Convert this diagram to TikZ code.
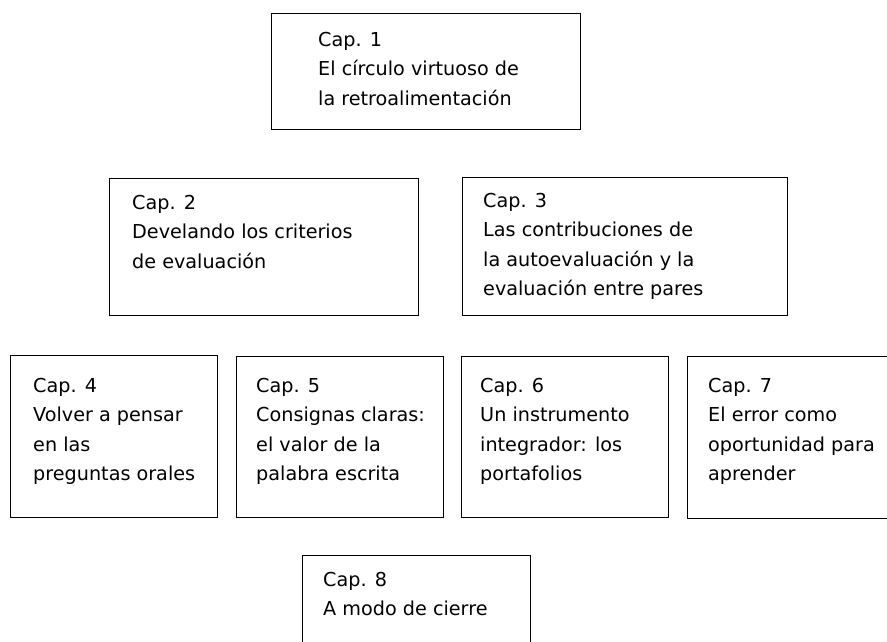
\documentclass[tikz,border=0pt]{standalone}
\usepackage{fontspec}
\setmainfont{DejaVu Sans}
\usetikzlibrary{positioning}

\begin{document}
\begin{tikzpicture}[
		x=1pt, y=-1pt,
		capbox/.style={draw=black, line width=1pt, anchor=north west, inner sep=0pt},
		captext/.style={anchor=north west, align=left, inner sep=0pt, font=\fontsize{19.2}{29.5}\selectfont},
		]
		\useasboundingbox (0,0) rectangle (887,641);
		\clip (0,0) rectangle (887,641);
		%Boxes
		\node[capbox, minimum width=309pt, minimum height=116pt]	(box1)	at	(271,13)	{};
		\node[capbox, minimum width=309pt, minimum height=137pt]	(box2)	at	(109,178)	{};
		\node[capbox, minimum width=325pt, minimum height=138pt]	(box3)	at	(462,177)	{};
		\node[capbox, minimum width=207pt, minimum height=162pt]	(box4)	at	(10,355)	{};
		\node[capbox, minimum width=207pt, minimum height=161pt]	(box5)	at	(236,356)	{};
		\node[capbox, minimum width=207pt, minimum height=161pt]	(box6)	at	(461,356)	{};
		\node[capbox, minimum width=220pt, minimum height=162pt]	(box7)	at	(687,356)	{};
		\node[capbox, minimum width=228pt, minimum height=110pt]	(box8)	at	(302,555)	{};
		%Texts
		\node[captext, below right=19pt and 47pt of box1.north west]	(cap1)	{Cap. 1\\El círculo virtuoso de\\la retroalimentación};
		\node[captext, below right=17pt and 23pt of box2.north west]	(cap2)	{Cap. 2\\Develando los criterios\\de evaluación};
		\node[captext, below right=16pt and 21pt of box3.north west]	(cap3)	{Cap. 3\\Las contribuciones de\\la autoevaluación y la\\evaluación entre pares};
		\node[captext, below right=23pt and 23pt of box4.north west]	(cap4)	{Cap. 4\\Volver a pensar\\en las\\preguntas orales};
		\node[captext, below right=22pt and 20pt of box5.north west]	(cap5)	{Cap. 5\\Consignas claras:\\el valor de la\\palabra escrita};
		\node[captext, below right=22pt and 19pt of box6.north west]	(cap6)	{Cap. 6\\Un instrumento\\integrador: los\\portafolios};
		\node[captext, below right=22pt and 21pt of box7.north west]	(cap7)	{Cap. 7\\El error como\\oportunidad para\\aprender};
		\node[captext, below right=17pt and 21pt of box8.north west]	(cap8)	{Cap. 8\\A modo de cierre};
\end{tikzpicture}
\end{document}
